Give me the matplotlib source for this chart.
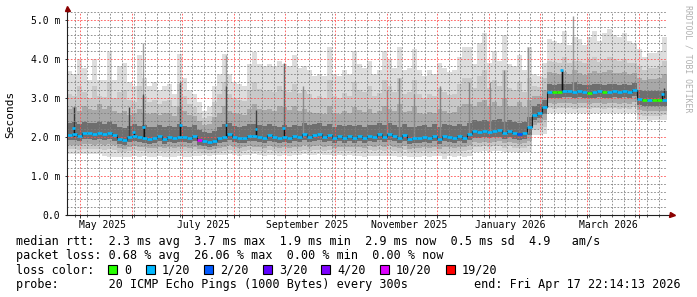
import numpy as np
import matplotlib
matplotlib.use("Agg")
import matplotlib.pyplot as plt
import matplotlib.dates as mdates
from matplotlib.patches import Rectangle
from matplotlib.ticker import MultipleLocator, FuncFormatter, NullFormatter
from datetime import datetime

plt.rcParams['font.family'] = ['DejaVu Sans Mono']

# time base: 360 days, one value per 3 days
start = np.datetime64('2025-04-22T22:14:13')
step_days = 3

# median rtt (ms) per step
med = [2.05, 2.06, 2.03, 2.10, 2.09, 2.07, 2.10, 2.08, 2.10, 2.04,
       1.95, 1.92, 2.00, 2.02, 2.00, 1.98, 1.95, 1.97, 2.03, 1.95,
       2.00, 1.97, 2.00, 2.00, 1.97, 2.03, 1.93, 1.90, 1.87, 1.90,
       1.97, 2.00, 2.08, 2.00, 1.97, 1.98, 2.03, 2.02, 2.00, 1.97,
       2.05, 2.00, 1.97, 2.00, 1.97, 2.02, 2.00, 2.07, 2.00, 2.04,
       2.07, 2.00, 2.04, 1.97, 2.03, 1.98, 2.02, 1.98, 2.02, 1.97,
       2.03, 2.00, 2.07, 2.00, 2.08, 2.02, 1.97, 2.05, 1.95, 1.96,
       1.97, 2.00, 1.97, 2.03, 1.95, 2.03, 2.00, 1.97, 2.03, 1.98,
       2.07, 2.15, 2.13, 2.15, 2.12, 2.15, 2.17, 2.10, 2.15, 2.10,
       2.07, 2.10, 2.25, 2.55, 2.62, 2.75, 3.15, 3.15, 3.15, 3.17,
       3.17, 3.15, 3.17, 3.15, 3.13, 3.15, 3.17, 3.15, 3.15, 3.17,
       3.15, 3.17, 3.15, 3.20, 2.97, 2.95, 2.93, 2.95, 2.95, 2.95]

# smoke levels (ms): outermost ping pair down to innermost
top = [3.68, 3.60, 3.98, 3.75, 3.45, 3.98, 3.45, 3.45, 4.18, 3.45,
       3.80, 3.90, 3.40, 3.30, 4.10, 3.50, 3.30, 3.40, 3.20, 3.30,
       3.35, 3.10, 4.13, 3.50, 3.20, 3.10, 2.90, 2.65, 2.75, 3.30,
       3.60, 4.13, 3.60, 3.40, 3.35, 3.30, 3.85, 4.18, 3.85, 3.80,
       3.85, 3.80, 3.95, 3.85, 3.80, 4.10, 3.75, 3.80, 3.70, 3.55,
       3.60, 3.55, 4.30, 3.60, 3.55, 3.70, 3.60, 4.20, 3.85, 3.75,
       3.95, 3.60, 3.70, 4.20, 4.00, 3.75, 4.30, 3.70, 3.75, 4.25,
       3.70, 3.55, 3.70, 3.60, 3.90, 3.75, 3.65, 3.70, 4.05, 4.30,
       4.30, 3.85, 4.40, 4.65, 3.90, 4.20, 3.95, 4.60, 3.85, 3.80,
       4.10, 3.70, 4.30, 3.60, 3.55, 3.90, 4.50, 4.45, 4.40, 4.70,
       4.35, 4.55, 4.50, 4.35, 4.55, 4.70, 4.45, 4.65, 4.75, 4.60,
       4.55, 4.65, 4.45, 4.40, 4.25, 4.05, 4.15, 4.15, 4.20, 4.55]

hi2 = [3.10, 3.05, 3.30, 3.15, 3.00, 3.30, 3.05, 3.02, 3.40, 3.00,
       3.15, 3.20, 2.95, 2.90, 3.30, 3.05, 2.90, 2.95, 2.85, 2.92,
       2.95, 2.80, 3.35, 3.05, 2.85, 2.75, 2.62, 2.48, 2.52, 2.90,
       3.10, 3.40, 3.10, 2.98, 2.95, 2.92, 3.20, 3.40, 3.22, 3.18,
       3.20, 3.15, 3.30, 3.20, 3.15, 3.35, 3.12, 3.18, 3.10, 3.00,
       3.05, 3.00, 3.45, 3.05, 3.00, 3.12, 3.05, 3.40, 3.20, 3.15,
       3.30, 3.05, 3.12, 3.45, 3.30, 3.15, 3.50, 3.10, 3.15, 3.45,
       3.10, 3.00, 3.10, 3.05, 3.25, 3.15, 3.08, 3.10, 3.35, 3.50,
       3.50, 3.25, 3.55, 3.70, 3.25, 3.45, 3.30, 3.70, 3.25, 3.20,
       3.40, 3.15, 3.50, 3.30, 3.28, 3.50, 3.95, 3.92, 3.90, 4.05,
       3.88, 3.95, 3.95, 3.88, 3.98, 4.05, 3.92, 4.00, 4.05, 3.98,
       3.95, 4.00, 3.90, 3.88, 3.80, 3.72, 3.76, 3.76, 3.80, 3.95]

hi3 = [2.70, 2.75, 2.65, 2.80, 2.72, 2.68, 2.85, 2.70, 2.78, 2.66,
       2.60, 2.65, 2.55, 2.62, 2.70, 2.62, 2.58, 2.60, 2.55, 2.60,
       2.62, 2.52, 2.75, 2.65, 2.55, 2.52, 2.40, 2.30, 2.32, 2.50,
       2.62, 2.80, 2.65, 2.60, 2.58, 2.55, 2.72, 2.85, 2.70, 2.68,
       2.72, 2.66, 2.78, 2.75, 2.68, 2.80, 2.66, 2.70, 2.64, 2.60,
       2.62, 2.58, 2.80, 2.62, 2.58, 2.66, 2.62, 2.75, 2.68, 2.64,
       2.70, 2.60, 2.66, 2.80, 2.72, 2.66, 2.85, 2.64, 2.66, 2.80,
       2.62, 2.58, 2.64, 2.60, 2.70, 2.66, 2.62, 2.64, 2.75, 2.85,
       2.85, 2.80, 2.90, 2.95, 2.78, 2.88, 2.80, 3.00, 2.80, 2.78,
       2.88, 2.75, 2.95, 3.05, 3.05, 3.20, 3.65, 3.62, 3.60, 3.66,
       3.60, 3.70, 3.62, 3.58, 3.64, 3.68, 3.62, 3.66, 3.70, 3.64,
       3.62, 3.66, 3.60, 3.62, 3.50, 3.45, 3.48, 3.48, 3.50, 3.60]

hi4 = [2.35, 2.38, 2.32, 2.38, 2.36, 2.35, 2.38, 2.34, 2.38, 2.32,
       2.25, 2.22, 2.28, 2.32, 2.28, 2.30, 2.24, 2.26, 2.30, 2.24,
       2.28, 2.25, 2.32, 2.28, 2.25, 2.30, 2.18, 2.12, 2.10, 2.16,
       2.26, 2.32, 2.35, 2.28, 2.26, 2.27, 2.32, 2.32, 2.30, 2.27,
       2.33, 2.28, 2.26, 2.30, 2.26, 2.30, 2.28, 2.35, 2.29, 2.32,
       2.35, 2.28, 2.33, 2.26, 2.31, 2.27, 2.30, 2.27, 2.30, 2.26,
       2.31, 2.29, 2.35, 2.29, 2.36, 2.30, 2.26, 2.33, 2.25, 2.26,
       2.27, 2.29, 2.26, 2.32, 2.25, 2.32, 2.29, 2.27, 2.33, 2.28,
       2.36, 2.42, 2.40, 2.43, 2.40, 2.43, 2.45, 2.38, 2.43, 2.38,
       2.36, 2.38, 2.50, 2.78, 2.85, 2.95, 3.35, 3.33, 3.34, 3.36,
       3.36, 3.40, 3.36, 3.33, 3.32, 3.34, 3.36, 3.33, 3.34, 3.36,
       3.33, 3.35, 3.33, 3.38, 3.20, 3.18, 3.16, 3.18, 3.18, 3.18]

lo4 = [1.92, 1.93, 1.90, 1.95, 1.94, 1.92, 1.95, 1.93, 1.95, 1.90,
       1.82, 1.80, 1.86, 1.88, 1.86, 1.85, 1.82, 1.84, 1.88, 1.82,
       1.86, 1.84, 1.86, 1.86, 1.84, 1.88, 1.80, 1.77, 1.75, 1.77,
       1.84, 1.86, 1.92, 1.86, 1.84, 1.85, 1.89, 1.88, 1.86, 1.84,
       1.90, 1.86, 1.84, 1.86, 1.84, 1.88, 1.86, 1.92, 1.86, 1.89,
       1.92, 1.86, 1.89, 1.84, 1.88, 1.85, 1.88, 1.85, 1.88, 1.84,
       1.89, 1.86, 1.92, 1.86, 1.93, 1.88, 1.84, 1.90, 1.82, 1.83,
       1.84, 1.86, 1.84, 1.88, 1.82, 1.88, 1.86, 1.84, 1.88, 1.85,
       1.92, 1.98, 1.97, 1.99, 1.96, 1.99, 2.00, 1.95, 1.99, 1.95,
       1.93, 1.95, 2.05, 2.42, 2.48, 2.58, 3.00, 3.00, 3.00, 3.02,
       3.02, 3.00, 3.02, 3.00, 2.98, 3.00, 3.02, 3.00, 3.00, 3.02,
       3.00, 3.02, 3.00, 3.04, 2.82, 2.80, 2.78, 2.80, 2.80, 2.80]

lo3 = [1.80, 1.80, 1.78, 1.82, 1.81, 1.80, 1.82, 1.80, 1.82, 1.78,
       1.72, 1.70, 1.74, 1.76, 1.74, 1.74, 1.71, 1.72, 1.75, 1.71,
       1.74, 1.72, 1.74, 1.74, 1.72, 1.75, 1.70, 1.68, 1.66, 1.68,
       1.72, 1.74, 1.78, 1.74, 1.72, 1.73, 1.76, 1.75, 1.74, 1.72,
       1.76, 1.74, 1.72, 1.74, 1.72, 1.75, 1.74, 1.78, 1.74, 1.76,
       1.78, 1.74, 1.76, 1.72, 1.75, 1.73, 1.75, 1.73, 1.75, 1.72,
       1.76, 1.74, 1.78, 1.74, 1.78, 1.75, 1.72, 1.76, 1.70, 1.71,
       1.72, 1.74, 1.72, 1.75, 1.70, 1.75, 1.74, 1.72, 1.75, 1.73,
       1.78, 1.86, 1.85, 1.87, 1.84, 1.87, 1.88, 1.83, 1.87, 1.83,
       1.82, 1.83, 1.90, 2.30, 2.35, 2.42, 2.86, 2.85, 2.86, 2.87,
       2.87, 2.85, 2.87, 2.86, 2.84, 2.86, 2.87, 2.85, 2.86, 2.87,
       2.85, 2.87, 2.85, 2.88, 2.68, 2.67, 2.65, 2.67, 2.67, 2.67]

lo2 = [1.68, 1.68, 1.66, 1.70, 1.69, 1.68, 1.70, 1.66, 1.68, 1.65,
       1.62, 1.60, 1.63, 1.65, 1.63, 1.63, 1.61, 1.62, 1.64, 1.61,
       1.63, 1.62, 1.63, 1.63, 1.62, 1.64, 1.60, 1.59, 1.58, 1.59,
       1.62, 1.63, 1.66, 1.63, 1.62, 1.63, 1.65, 1.64, 1.64, 1.62,
       1.65, 1.63, 1.62, 1.63, 1.62, 1.64, 1.63, 1.66, 1.63, 1.65,
       1.66, 1.63, 1.65, 1.62, 1.64, 1.63, 1.64, 1.62, 1.64, 1.62,
       1.65, 1.63, 1.66, 1.63, 1.66, 1.64, 1.62, 1.65, 1.60, 1.61,
       1.62, 1.63, 1.62, 1.64, 1.62, 1.55, 1.63, 1.62, 1.64, 1.63,
       1.66, 1.75, 1.74, 1.76, 1.73, 1.76, 1.77, 1.72, 1.76, 1.72,
       1.71, 1.72, 1.76, 2.18, 2.20, 2.25, 2.73, 2.72, 2.73, 2.74,
       2.74, 2.72, 2.74, 2.73, 2.71, 2.73, 2.74, 2.72, 2.73, 2.74,
       2.72, 2.74, 2.72, 2.75, 2.55, 2.54, 2.53, 2.54, 2.54, 2.55]

bot = [1.56, 1.56, 1.55, 1.57, 1.56, 1.56, 1.55, 1.50, 1.49, 1.49,
       1.48, 1.48, 1.49, 1.50, 1.49, 1.50, 1.48, 1.49, 1.50, 1.48,
       1.49, 1.48, 1.50, 1.49, 1.48, 1.52, 1.52, 1.53, 1.52, 1.53,
       1.53, 1.54, 1.55, 1.53, 1.52, 1.53, 1.54, 1.55, 1.53, 1.52,
       1.54, 1.53, 1.52, 1.54, 1.52, 1.53, 1.53, 1.55, 1.53, 1.54,
       1.55, 1.53, 1.54, 1.52, 1.53, 1.52, 1.53, 1.50, 1.51, 1.49,
       1.51, 1.50, 1.52, 1.50, 1.52, 1.51, 1.49, 1.51, 1.48, 1.49,
       1.49, 1.50, 1.49, 1.50, 1.50, 1.42, 1.50, 1.49, 1.50, 1.49,
       1.52, 1.62, 1.61, 1.63, 1.60, 1.63, 1.63, 1.60, 1.62, 1.60,
       1.59, 1.60, 1.62, 2.05, 2.05, 2.08, 2.60, 2.60, 2.61, 2.62,
       2.61, 2.60, 2.61, 2.60, 2.59, 2.60, 2.61, 2.60, 2.60, 2.61,
       2.60, 2.61, 2.60, 2.62, 2.42, 2.42, 2.41, 2.42, 2.42, 2.44]

# loss class per step (index into loss_labels)
loss = [1, 1, 1, 1, 1, 1, 1, 1, 1, 1,
        1, 1, 1, 1, 1, 1, 1, 1, 1, 1,
        1, 1, 1, 1, 1, 1, 5, 1, 1, 1,
        1, 1, 1, 1, 1, 1, 1, 1, 1, 1,
        1, 1, 1, 1, 1, 1, 1, 1, 1, 1,
        1, 1, 1, 1, 1, 1, 1, 1, 1, 1,
        1, 1, 1, 1, 1, 1, 1, 1, 1, 1,
        1, 1, 1, 1, 1, 1, 1, 1, 1, 1,
        1, 1, 1, 1, 1, 1, 1, 1, 1, 1,
        2, 1, 1, 1, 1, 1, 1, 0, 0, 1,
        1, 1, 1, 1, 0, 1, 1, 0, 1, 1,
        1, 1, 1, 1, 1, 0, 1, 0, 0, 1]

loss_labels = ['0', '1/20', '2/20', '3/20', '4/20', '10/20', '19/20']
loss_colors = ['#26ff00', '#00b8ff', '#0059ff', '#5e00ff', '#7e00ff', '#dd00ff', '#ff0000']

# single-day median excursions (day from start, median ms)
mspike_day = [3.9, 40.0, 46.0, 68.1, 95.4, 113.4, 129.9, 296.7, 357.2]
mspike_val = [2.22, 2.13, 2.25, 2.30, 2.30, 2.20, 2.22, 3.70, 3.10]

# single-day smoke excursions (day, from ms, to ms, grey level)
spike_day = [3.9, 36.9, 45.6, 45.6, 68.1, 95.4, 95.4, 113.4, 129.9, 141.6,
             192.0, 199.2, 208.2, 223.8, 241.2, 253.8, 262.2, 276.6, 296.7,
             303.6, 358.2]
spike_lo = [2.0, 2.0, 2.0, 2.0, 2.0, 2.0, 2.0, 2.0, 2.0, 2.0,
            2.0, 2.0, 2.0, 2.0, 2.1, 2.1, 2.1, 2.1, 3.15, 3.15, 2.95]
spike_hi = [2.75, 2.76, 4.40, 3.10, 3.40, 4.10, 3.30, 2.68, 3.90, 3.30,
            3.20, 3.50, 3.10, 3.30, 3.40, 3.40, 3.70, 4.30, 3.72, 5.10, 3.25]
spike_grey = [0.22, 0.25, 0.62, 0.30, 0.25, 0.62, 0.30, 0.25, 0.40, 0.55,
              0.55, 0.52, 0.55, 0.52, 0.52, 0.55, 0.52, 0.58, 0.12, 0.60, 0.22]

rtt_stats = [('2.3', 'avg'), ('3.7', 'max'), ('1.9', 'min'), ('2.9', 'now'), ('0.5', 'sd')]
loss_stats = [('0.68', 'avg'), ('26.06', 'max'), ('0.00', 'min'), ('0.00', 'now')]
label_months = ['2025-05', '2025-07', '2025-09', '2025-11', '2026-01', '2026-03']

# ---------------------------------------------------------------
day = np.timedelta64(86400, 's')
edges = mdates.date2num(start + np.arange(len(med) + 1) * step_days * day)
def to_num(days):
    return mdates.date2num(start + (np.array(days) * 86400).astype('timedelta64[s]'))

W, H = 697, 297
fig = plt.figure(figsize=(W / 100, H / 100), dpi=100)
fig.patch.set_facecolor('white')
L, R, T, B = 67, 667, 11.7, 215
ax = fig.add_axes([L / W, 1 - B / H, (R - L) / W, (B - T) / H])
ax.set_xlim(edges[0], edges[-1])
ax.set_ylim(0, 5.2)
for s in ax.spines.values():
    s.set_visible(False)

bands = [(bot, top, '#dddddd'), (lo2, hi2, '#c8c8c8'),
         (lo3, hi3, '#a8a8a8'), (lo4, hi4, '#6e6e6e')]
for lo, hi, c in bands:
    ax.stairs(hi, edges, baseline=lo, fill=True, color=c, lw=0, zorder=1)

ax.vlines(to_num(spike_day), spike_lo, spike_hi,
          colors=[str(g) for g in spike_grey], lw=1.0, zorder=1.5)

ax.stairs(med, edges, baseline=None, color='#1a1a1a', lw=0.8, zorder=3)
ax.hlines(med, edges[:-1], edges[1:], colors=[loss_colors[k] for k in loss],
          lw=1.9, zorder=4)

ms_x = to_num(mspike_day)
ms_base = [med[int(d // step_days)] for d in mspike_day]
ax.vlines(ms_x, ms_base, mspike_val, colors='#111111', lw=1.0, zorder=3)
ax.hlines(mspike_val, ms_x - 0.8, ms_x + 0.8, colors=loss_colors[1], lw=1.9, zorder=4)

# grid, light and dotted
ax.xaxis.set_major_locator(mdates.MonthLocator())
ax.xaxis.set_minor_locator(mdates.WeekdayLocator(byweekday=mdates.MO))
ax.xaxis.set_major_formatter(NullFormatter())
ax.yaxis.set_major_locator(MultipleLocator(1))
ax.yaxis.set_minor_locator(MultipleLocator(0.2))
ax.grid(which='minor', color=(0.5, 0.5, 0.5, 0.32), lw=0.6, ls=(0, (2, 2)))
ax.grid(which='major', color=(1.0, 0.3, 0.3, 0.42), lw=0.6, ls=(0, (2, 2)))
ax.set_axisbelow(False)
ax.yaxis.set_major_formatter(FuncFormatter(lambda v, _: '0.0' if v == 0 else f'{v:.1f} m'))
ax.tick_params(axis='y', which='major', length=1.5, width=0.7, pad=3.2,
               labelsize=7, colors='#333333', labelcolor='black')
ax.tick_params(axis='y', which='minor', length=0)
ax.tick_params(axis='x', which='major', length=2.2, width=0.7, colors='#333333')
ax.tick_params(axis='x', which='minor', length=1.4, width=0.7, colors='#555555')

# axis lines with arrows
ax.plot([-0.002, 1.008], [0, 0], transform=ax.transAxes, color='#202020', lw=0.8,
        clip_on=False, zorder=6)
ax.plot([0, 0], [0, 1.02], transform=ax.transAxes, color='#202020', lw=0.8,
        clip_on=False, zorder=6)
ax.plot([1.008], [0], marker='>', ms=3.6, color='#8b0000', transform=ax.transAxes,
        clip_on=False, zorder=7)
ax.plot([0], [1.018], marker='^', ms=3.6, color='#8b0000', transform=ax.transAxes,
        clip_on=False, zorder=7)

# month labels, centred mid-month
for m in label_months:
    d = np.datetime64(m + '-01') + np.timedelta64(13, 'D')
    txt = datetime.strptime(m, '%Y-%m').strftime('%B %Y')
    ax.text(mdates.date2num(d), -10 / (B - T), txt, transform=ax.get_xaxis_transform(),
            ha='center', va='center', fontsize=7)

fig.text(10.5 / W, 1 - 114 / H, 'Seconds', rotation=90, fontsize=8,
         ha='center', va='center')
fig.text(688 / W, 1 - 5 / H, 'RRDTOOL / TOBI OETIKER', rotation=-90, fontsize=5.9,
         color='#b0b0b0', ha='center', va='top')

# legend block
fs = 8.5
cw = 7.1
x0 = 16
line1 = 'median rtt:  ' + '  '.join(f'{v} ms {k}' for v, k in rtt_stats) + '  4.9   am/s'
line2 = 'packet loss: ' + '  '.join(f'{v} % {k}' for v, k in loss_stats)
fig.text(x0 / W, 1 - 245 / H, line1, fontsize=fs, va='baseline')
fig.text(x0 / W, 1 - 259 / H, line2, fontsize=fs, va='baseline')
fig.text(x0 / W, 1 - 273.5 / H, 'loss color:', fontsize=fs, va='baseline')
bx = x0 + 13 * cw
for lab, col in zip(loss_labels, loss_colors):
    fig.add_artist(Rectangle((bx / W, 1 - 274 / H), 9 / W, 9 / H, facecolor=col,
                             edgecolor='black', lw=0.8, transform=fig.transFigure))
    tx = bx + 16
    fig.text(tx / W, 1 - 273.5 / H, lab, fontsize=fs, va='baseline')
    bx = tx + len(lab) * cw + 2 * cw
fig.text(x0 / W, 1 - 288 / H, 'probe:       20 ICMP Echo Pings (1000 Bytes) every 300s',
         fontsize=fs, va='baseline')
fig.text(681 / W, 1 - 288 / H, 'end: Fri Apr 17 22:14:13 2026', fontsize=fs,
         va='baseline', ha='right')

fig.savefig('out.png', dpi=100)
